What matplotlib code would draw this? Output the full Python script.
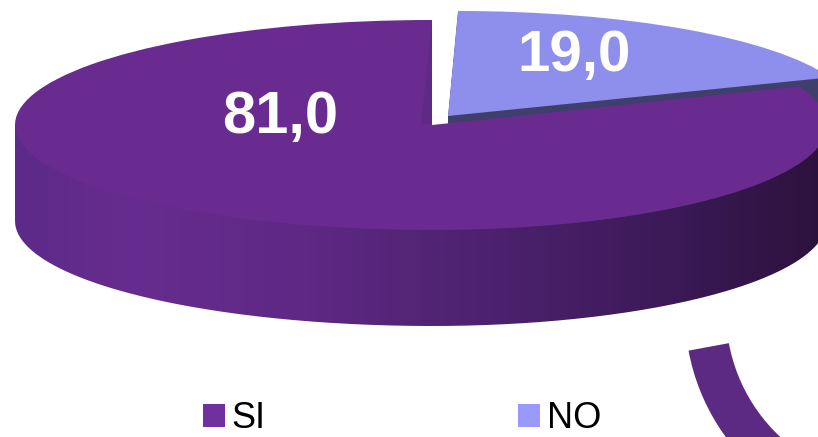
import matplotlib
matplotlib.use("Agg")
import matplotlib.pyplot as plt
import numpy as np
from matplotlib.colors import LinearSegmentedColormap
from matplotlib.patches import PathPatch, Polygon, Wedge
from matplotlib.path import Path

labels = ["SI", "NO"]
values = [81.0, 19.0]
value_text = ["81,0", "19,0"]

top_colors = ["#692b8f", "#8e8eec"]
legend_colors = ["#7030a0", "#9999ff"]
side_dark = "#3f3f6b"

# geometry of the flattened pie, in pixels
W, H = 818, 437
cx, cy = 432, 125
rx, ry = 417, 105
rx_right = 395  # the disc is narrower right of the notch
depth = 96
shift_x, shift_y = 16, -9  # pulled out slice

plt.rcParams["font.family"] = ["Liberation Sans", "DejaVu Sans"]
fig = plt.figure(figsize=(W / 100, H / 100), dpi=100)

# pie axes: one data unit is rx wide and ry high, so the circle is squashed
ax = fig.add_axes([0, 0, 1, 1])
ax.axis("off")


def pie_slice(idx, dx, dy, color, zorder, k_right=1.0, skew=0.0):
    # draw one slice of the pie, reshaped a bit for the fake perspective
    x0, y0 = dx / rx, -dy / ry
    wedges, _ = ax.pie(values, startangle=90, radius=1, center=(x0, y0),
                       frame=True, wedgeprops={"linewidth": 0})
    path = wedges[idx].get_path()
    for w in wedges:
        w.set_visible(False)
    verts = path.vertices.copy()
    x = verts[:, 0] - x0
    x[x > 0] *= k_right
    verts[:, 0] = x0 + x + skew * (verts[:, 1] - y0)
    ax.add_patch(PathPatch(Path(verts, path.codes), fc=color, ec="none",
                           lw=0, zorder=zorder))


# purple wall, horizontal gradient clipped to the lower half of the disc
t = np.linspace(np.pi, 2 * np.pi, 200)
wall = np.column_stack([np.cos(t), np.sin(t) - depth / ry])
wall = np.vstack([wall, [1, 0], [-1, 0], wall[0]])
wall[:, 0] = np.where(wall[:, 0] > 0, wall[:, 0] * rx_right / rx, wall[:, 0])
wall_cmap = LinearSegmentedColormap.from_list(
    "wall", [(0, "#5c2a88"), (0.14, "#672c8f"), (0.35, "#5e2884"),
             (0.55, "#4e2270"), (0.78, "#3c1a58"), (1, "#2a1038")])
grad = np.linspace(0, 1, 256).reshape(1, -1)
im = ax.imshow(grad, cmap=wall_cmap, aspect="auto", zorder=1,
               extent=(-1, 1, -(depth / ry) - 1, 0))
clip = PathPatch(Path(wall), transform=ax.transData, fc="none", ec="none")
ax.add_patch(clip)
im.set_clip_path(clip)

# side of the pulled out slice, then its top, then the big slice on top
for step in range(2, 42, 2):
    pie_slice(1, shift_x, shift_y + step, side_dark, 2, 407 / rx, 0.024)
pie_slice(1, shift_x, shift_y, top_colors[1], 3, 407 / rx, 0.024)
pie_slice(0, 0, 0, top_colors[0], 4, rx_right / rx)

ax.set_aspect("auto")
ax.set_xlim(-cx / rx, (W - cx) / rx)
ax.set_ylim(-(H - cy) / ry, cy / ry)

# overlay in pixel coordinates for labels, legend and the loose arc
ov = fig.add_axes([0, 0, 1, 1], facecolor="none")
ov.axis("off")
ov.set_xlim(0, W)
ov.set_ylim(H, 0)

# darker sliver along the notch
ov.add_patch(Polygon([(421, 124), (432, 124), (432, 22)], fc="#5f2a85",
                     ec="none"))

ov.text(280, 118, value_text[0], color="white", fontsize=43,
        fontweight="bold", ha="center", va="center")
ov.text(574, 56, value_text[1], color="white", fontsize=42,
        fontweight="bold", ha="center", va="center")

ov.add_patch(Wedge((897, 312), 212, 125, 169.5, width=41, fc="#5c2a82",
                   ec="none"))

handles = [plt.Rectangle((0, 0), 1, 1, fc=c, ec="none") for c in legend_colors]
ov.legend(handles, labels, ncols=2, frameon=False, fontsize=26,
          loc="center left", bbox_to_anchor=(203 / W, 1 - 419 / H),
          borderpad=0, borderaxespad=0, handlelength=0.6, handleheight=0.6,
          handletextpad=0.19, columnspacing=7.0)

fig.savefig("out.png", dpi=100)
